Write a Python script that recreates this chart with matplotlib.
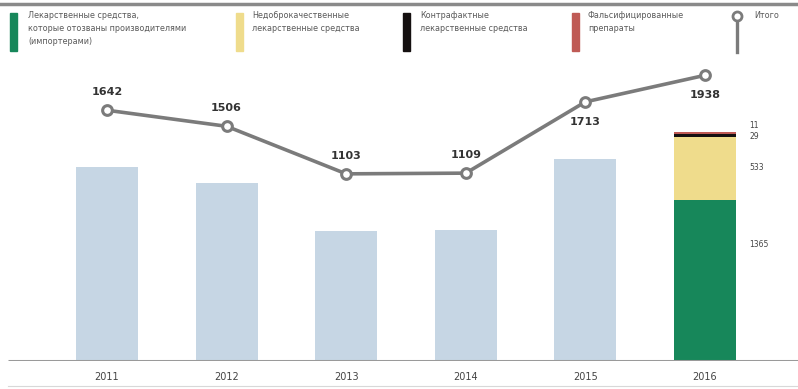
import matplotlib
matplotlib.use("Agg")
import matplotlib.pyplot as plt
from matplotlib.patches import Rectangle
from matplotlib.lines import Line2D

years = ["2011", "2012", "2013", "2014", "2015", "2016"]
totals = [1642, 1506, 1103, 1109, 1713, 1938]
recalled_2016 = 1365
substandard_2016 = 533
counterfeit_2016 = 29
falsified_2016 = 11

legend_labels = [
    "Лекарственные средства,\nкоторые отозваны производителями\n(импортерами)",
    "Недоброкачественные\nлекарственные средства",
    "Контрафактные\nлекарственные средства",
    "Фальсифицированные\nпрепараты",
    "Итого",
]

c_blue = "#c6d6e4"
c_green = "#17875a"
c_yellow = "#efdc8c"
c_black = "#151010"
c_red = "#bf5a55"
c_line = "#7b7b7b"
c_text = "#5a5a5a"

W, H = 798, 389
fig = plt.figure(figsize=(W / 100, H / 100), dpi=100)

def fx(px):
    return px / W

def fy(py):
    return 1 - py / H

scale = 0.118  # px per unit
ax = fig.add_axes([fx(8), fy(361), fx(790), (361 - 60) / H])
ymax = 301 / scale
ax.set_ylim(0, ymax)
ax.set_xlim(-0.828, 5.778)
ax.axis("off")

x = list(range(len(years)))
width = 0.52
ax.bar(x[:5], totals[:5], width=width, color=c_blue, zorder=1)
stack = [recalled_2016, substandard_2016, counterfeit_2016, falsified_2016]
stack_colors = [c_green, c_yellow, c_black, c_red]
bottom = 0
for v, c in zip(stack, stack_colors):
    ax.bar(x[5], v, bottom=bottom, width=width, color=c, zorder=1)
    bottom += v

def ypx(py):
    return (361 - py) / scale

lab_x = 5 + 0.37
kw = dict(fontsize=5.5, color="#444", va="center", ha="left")
ax.text(lab_x, ypx(245), str(recalled_2016), **kw)
ax.text(lab_x, ypx(168), str(substandard_2016), **kw)
ax.text(lab_x, ypx(136.5), str(counterfeit_2016), **kw)
ax.text(lab_x, ypx(125), str(falsified_2016), **kw)

ax.plot([-0.828, 5.778], [0, 0], color="#9a9a9a", lw=2.2, zorder=2, solid_capstyle="butt")

# line on a twin axis with the same scale, shifted upward
ax2 = ax.twinx()
offset = 57 / scale
ax2.set_ylim(-offset, ymax - offset)
ax2.set_xlim(-0.828, 5.778)
ax2.axis("off")
ax2.plot(x, totals, color=c_line, lw=2.6, marker="o", markersize=7,
         markerfacecolor="white", markeredgecolor=c_line, markeredgewidth=2.2, zorder=3)
for i, v in enumerate(totals):
    dy = -20 / scale if i >= 4 else 18 / scale
    ax2.text(i, v + dy, str(v), fontsize=8, fontweight="bold", color="#333",
             ha="center", va="center")

for i, y in enumerate(years):
    fig.text(fx(8 + 99 + i * 119.6), fy(377), y, fontsize=7, color="#444",
             ha="center", va="center", family=["Liberation Sans Narrow", "DejaVu Sans"])

fig.add_artist(Line2D([0, 1], [fy(3.5), fy(3.5)], color="#8a8a8a", lw=2.5))
fig.add_artist(Line2D([fx(8), 1], [fy(386), fy(386)], color="#d8d8d8", lw=0.8))

legend_pos = [(10, c_green, 28), (236, c_yellow, 252), (403, c_black, 420), (572, c_red, 588)]
for (px, col, tx), lab in zip(legend_pos, legend_labels[:4]):
    fig.add_artist(Rectangle((fx(px), fy(51)), fx(7), (51 - 13) / H, color=col,
                             transform=fig.transFigure))
    fig.text(fx(tx), fy(11), lab, fontsize=5.8, color=c_text, ha="left", va="top",
             linespacing=1.55, family=["Liberation Sans Narrow", "DejaVu Sans"])
fig.add_artist(Line2D([fx(737), fx(737)], [fy(18), fy(52)], color=c_line, lw=2.4))
fig.add_artist(Line2D([fx(737)], [fy(16)], color=c_line, marker="o", markersize=6.5,
                      markerfacecolor="white", markeredgewidth=2))
fig.text(fx(754), fy(11), legend_labels[4], fontsize=5.8, color=c_text, ha="left", va="top",
         family=["Liberation Sans Narrow", "DejaVu Sans"])

fig.savefig("out.png", dpi=100)
